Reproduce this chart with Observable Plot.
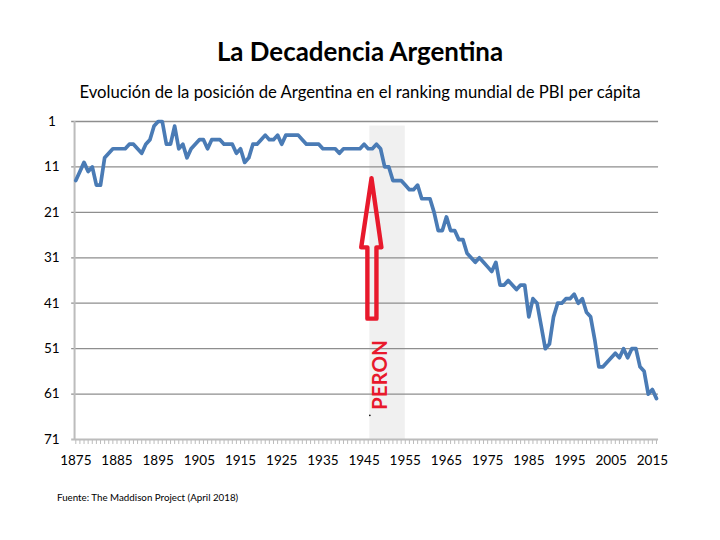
<!DOCTYPE html>
<html>
<head>
<meta charset="utf-8">
<script src="https://cdn.jsdelivr.net/npm/d3@7"></script>
<script src="https://cdn.jsdelivr.net/npm/@observablehq/plot@0.6"></script>
<style>
html,body{margin:0;padding:0;background:#fff;width:720px;height:540px;overflow:hidden;font-family:Lato,sans-serif;color:#000}
#title{position:absolute;left:0;width:720px;top:35px;text-align:center;font-size:25.9px;font-weight:700;line-height:32px}
#sub{position:absolute;left:0;width:720px;top:81px;text-align:center;font-size:16.7px;line-height:22px}
#chart{position:absolute;left:0;top:105px}
#src{position:absolute;left:57px;top:490px;font-size:9.75px;line-height:14px}
svg{display:block;overflow:visible}
</style>
</head>
<body>
<div id="title">La Decadencia Argentina</div>
<div id="sub">Evolución de la posición de Argentina en el ranking mundial de PBI per cápita</div>
<div id="chart"></div>
<div id="src">Fuente: The Maddison Project (April 2018)</div>
<script>
const firstYear = 1875;
const ranks = [
14,12,10,12,11,15,15,9,8,7,7,7,7,6,6,7,8,6,5,2,1,1,6,6,2,7,6,9,7,6,
5,5,7,5,5,5,6,6,6,8,7,10,9,6,6,5,4,5,5,4,6,4,4,4,4,5,6,6,6,6,
7,7,7,7,8,7,7,7,7,7,6,7,7,6,7,11,11,14,14,14,15,16,16,15,18,18,18,21,25,25,
22,25,25,27,27,30,31,32,31,32,33,34,32,37,37,36,37,38,37,37,44,40,41,46,51,50,44,41,41,40,
40,39,41,40,43,44,49,55,55,54,53,52,53,51,53,51,51,55,56,61,60,62
];
const years = ranks.map((_, i) => firstYear + i);
const series = years.map((year, i) => ({year, rank: ranks[i]}));
const labelYears = [1875,1885,1895,1905,1915,1925,1935,1945,1955,1965,1975,1985,1995,2005,2015];
const rankTicks = [1,11,21,31,41,51,61,71];
const gridRanks = [1,11,21,31,41,51,61];
const peronYears = [1946.4, 1955];
const peronRanks = [2, 71];
const arrowYears = [1946.8,1949.2,1948,1948,1945.8,1945.8,1944.3,1946.8];
const arrowRanks = [13.5,28.7,28.7,44.4,44.4,28.7,28.7,13.5];
const arrow = arrowYears.map((year, i) => ({year, rank: arrowRanks[i]}));
const peronLabelYear = 1949;
const peronLabelRank = 56.8;

const chart = Plot.plot({
  width: 720, height: 375,
  marginLeft: 75.3, marginRight: 64, marginTop: 16, marginBottom: 41,
  x: {domain: [1875, 2016], axis: null},
  y: {domain: [1, 71], reverse: true, axis: null},
  style: {fontFamily: "Lato, sans-serif", background: "transparent", overflow: "visible"},
  marks: [
    Plot.rectX([0], {x1: peronYears[0], x2: peronYears[1], y1: peronRanks[0], y2: peronRanks[1], fill: "#f0f0f0"}),
    Plot.ruleY(gridRanks, {x1: 1874, x2: 2016.5, stroke: "#8e8e8e", strokeWidth: 1.3}),
    Plot.ruleX([1874.7], {y1: 1, y2: 71, stroke: "#bcbcbc", strokeWidth: 2}),
    Plot.ruleX(years, {y1: 71, y2: 72.1, stroke: "#bcbcbc", strokeWidth: 1}),
    Plot.ruleY([71], {x1: 1874, x2: 2016.5, stroke: "#bcbcbc", strokeWidth: 2}),
    Plot.line(series, {x: "year", y: "rank", stroke: "#4a7bb5", strokeWidth: 3.7, strokeLinejoin: "round"}),
    Plot.line(arrow, {x: "year", y: "rank", stroke: "#e8192c", strokeWidth: 4.4, strokeLinejoin: "round"}),
    Plot.text(["PERON"], {x: () => peronLabelYear, y: () => peronLabelRank, text: d => d, rotate: -90, fill: "#e8192c", fontSize: 20.5, fontWeight: 700}),
    Plot.dot([0], {x: () => 1946.4, y: () => 65.7, r: 0.8, fill: "#000"}),
    Plot.text(rankTicks, {y: d => d, frameAnchor: "left", dx: -24, textAnchor: "middle", text: d => String(d), fontSize: 13.5, fill: "#000"}),
    Plot.text(labelYears, {x: d => d, y: () => 71, dy: 21, text: d => String(d), fontSize: 13.5, fill: "#000"})
  ]
});
document.getElementById("chart").appendChild(chart);
</script>
</body>
</html>
